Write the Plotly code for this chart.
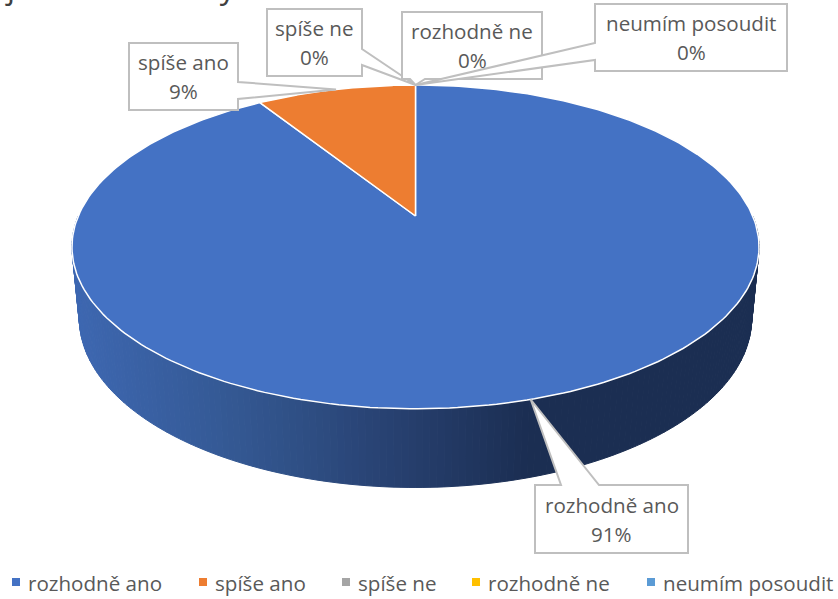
import numpy as np
import plotly.graph_objects as go

# hodnoty z grafu
categories = ["rozhodně ano", "spíše ano", "spíše ne", "rozhodně ne", "neumím posoudit"]
values = [91, 9, 0, 0, 0]
colors = ["#4472C4", "#ED7D31", "#A5A5A5", "#FFC000", "#5B9BD5"]
title_text = "je ve škole vždy čisto?"

# perspektiva horni a dolni podstavy
CX, CY, A, B, K = 415.5, 216, 337.2, 156, 0.191
CX2, CY2, A2, B2, K2 = 415.5, 286, 330, 163, 0.191


def top(t):
    # t = uhel ve smeru hodin od 12
    u, v = np.sin(t), np.cos(t)
    return CX + A * u / (1 + K * v), CY - B * v / (1 + K * v)


def bottom(t):
    u, v = np.sin(t), np.cos(t)
    return CX2 + A2 * u / (1 + K2 * v), CY2 - B2 * v / (1 + K2 * v)


def side_color(x):
    # prechod boku zleva doprava
    stops_x = [72, 240, 415, 530, 838]
    stops = [(62, 104, 178), (52, 88, 146), (38, 62, 108), (27, 46, 82), (27, 46, 82)]
    rgb = [np.interp(x, stops_x, [s[i] for s in stops]) for i in range(3)]
    return "rgb(%d,%d,%d)" % tuple(rgb)


fig = go.Figure()

# bok valce
edges = np.radians(np.linspace(90, 270, 181))
for a0, a1 in zip(edges[:-1], edges[1:]):
    ts = np.linspace(a0, a1, 3)
    x0, y0 = top(ts)
    x1, y1 = bottom(ts)
    xs = np.r_[x0, x1[::-1], x0[0]]
    ys = np.r_[y0, y1[::-1], y0[0]]
    c = side_color(xs.mean())
    fig.add_trace(go.Scatter(x=xs, y=ys, mode="lines", fill="toself", fillcolor=c,
                             line=dict(color=c, width=1), hoverinfo="skip", showlegend=False))

# vysece
total = sum(values)
start = 0
mids = []
for name, val, col in zip(categories, values, colors):
    a0 = start / total * 2 * np.pi
    a1 = (start + val) / total * 2 * np.pi
    mids.append((a0 + a1) / 2)
    start += val
    if val > 0:
        ts = np.linspace(a0, a1, 300)
        x, y = top(ts)
        xs = np.r_[CX, x, CX]
        ys = np.r_[CY, y, CY]
        fig.add_trace(go.Scatter(x=xs, y=ys, mode="lines", fill="toself", fillcolor=col,
                                 line=dict(color="white", width=1.5), name=name,
                                 hoverinfo="name", showlegend=False))

# popisky: box x0, x1, y0, y1, strana odkud jde spicka a jeji dva body
boxes = {
    "rozhodně ano": (535, 688, 485, 553, "top", 561, 599),
    "spíše ano": (129, 238, 43, 110, "right", 82, 99),
    "spíše ne": (267, 362, 9, 76, "right", 49, 65),
    "rozhodně ne": (402, 542, 12, 79, "bottom", 410, 425),
    "neumím posoudit": (595, 787, 4, 71, "left", 43, 60),
}
shapes = []
annotations = []
for name, val, mid in zip(categories, values, mids):
    x0, x1, y0, y1, kind, p, q = boxes[name]
    tx, ty = top(mid)
    if kind == "top":
        pts = [(x0, y0), (p, y0), (tx, ty), (q, y0), (x1, y0), (x1, y1), (x0, y1)]
    elif kind == "bottom":
        pts = [(x0, y0), (x1, y0), (x1, y1), (q, y1), (tx, ty), (p, y1), (x0, y1)]
    elif kind == "right":
        pts = [(x0, y0), (x1, y0), (x1, p), (tx, ty), (x1, q), (x1, y1), (x0, y1)]
    else:
        pts = [(x0, y0), (x1, y0), (x1, y1), (x0, y1), (x0, q), (tx, ty), (x0, p)]
    path = "M " + " L ".join("%.1f,%.1f" % pt for pt in pts) + " Z"
    shapes.append(dict(type="path", path=path, xref="x", yref="y",
                       fillcolor="white", line=dict(color="#BFBFBF", width=2), layer="above"))
    # dva radky zvlast, v originale maji vetsi rozestup
    ym = (y0 + y1) / 2
    for line, dy in ((name, -14.5), ("%d%%" % val, 14.5)):
        annotations.append(dict(x=(x0 + x1) / 2, y=ym + dy, xref="x", yref="y",
                                text=line, showarrow=False,
                                font=dict(family="Open Sans", size=20.6, color="#595959")))

# nadpis, je nahore oriznuty
annotations.append(dict(x=0.004, y=1.0, xref="paper", yref="paper", xanchor="left", yanchor="bottom",
                        yshift=-9, text=title_text, showarrow=False,
                        font=dict(family="Open Sans", size=32, color="#404040")))

# legenda
legend_x = [12, 199, 342, 472, 647]
for name, col, lx in zip(categories, colors, legend_x):
    shapes.append(dict(type="rect", x0=lx, x1=lx + 8, y0=578, y1=586, xref="x", yref="y",
                       fillcolor=col, line=dict(width=0)))
    annotations.append(dict(x=lx + 16, y=582.5, xref="x", yref="y", xanchor="left", xshift=-2,
                            text=name, showarrow=False,
                            font=dict(family="Open Sans", size=20.6, color="#595959")))

fig.update_layout(
    width=838, height=599,
    margin=dict(l=0, r=0, t=0, b=0),
    paper_bgcolor="white", plot_bgcolor="white",
    showlegend=False,
    shapes=shapes, annotations=annotations,
    xaxis=dict(range=[0, 838], visible=False, fixedrange=True),
    yaxis=dict(range=[599, 0], visible=False, fixedrange=True),
)

# bez okraje stranky, jinak je vse posunute o 8 px
fig.write_html("out.html", config=dict(displayModeBar=False),
               post_script="document.body.style.margin='0';document.body.style.overflow='hidden';")
